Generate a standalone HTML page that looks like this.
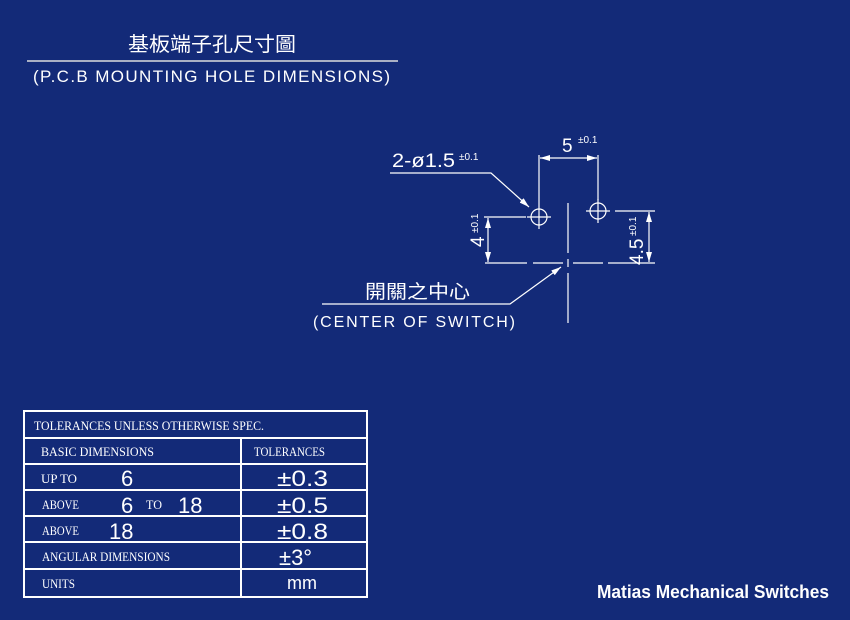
<!DOCTYPE html>
<html><head><meta charset="utf-8"><style>
html,body{margin:0;padding:0;background:#132a78;}
svg{display:block}
text{fill:#fff;font-family:"Liberation Sans","Noto Sans CJK TC",sans-serif}
.s{font-family:"Liberation Serif",serif}
</style></head><body>
<svg width="850" height="620" viewBox="0 0 850 620" xmlns="http://www.w3.org/2000/svg">
<defs><marker id="a" markerWidth="10" markerHeight="6" refX="10" refY="3" orient="auto" markerUnits="userSpaceOnUse"><path d="M0,0 L10,3 L0,6 z" fill="#fff"/></marker></defs>
<rect width="850" height="620" fill="#132a78"/>
<text x="128" y="51" font-size="20" textLength="168" lengthAdjust="spacingAndGlyphs">基板端子孔尺寸圖</text>
<line x1="27" y1="61" x2="398" y2="61" stroke="#ddd" stroke-width="1.5"/>
<text x="33" y="82" font-size="17" textLength="357" lengthAdjust="spacing">(P.C.B MOUNTING HOLE DIMENSIONS)</text>

<g stroke="#fff" stroke-width="1.2" fill="none">
<circle cx="539" cy="217" r="8"/><circle cx="598" cy="211" r="8"/>
<path d="M527,217h24M539,205v24M586,211h24M598,199v24"/>
<path d="M568,203v50M568,259v8M568,273v50"/>
<path d="M485,263h42M533,263h30M573,263h30M608,263h38"/>
<path d="M539,155v50M598,155v45"/>
<line x1="560" y1="158" x2="540" y2="158" marker-end="url(#a)"/>
<line x1="560" y1="158" x2="597" y2="158" marker-end="url(#a)"/>
<path d="M484,217h42"/>
<line x1="488" y1="240" x2="488" y2="218" marker-end="url(#a)"/>
<line x1="488" y1="240" x2="488" y2="262" marker-end="url(#a)"/>
<path d="M615,211h40M646,263h9"/>
<line x1="649" y1="237" x2="649" y2="212" marker-end="url(#a)"/>
<line x1="649" y1="237" x2="649" y2="262" marker-end="url(#a)"/>
<polyline points="390,173 491,173 529,207" marker-end="url(#a)" fill="none"/>
<polyline points="322,304 510,304 561,267" marker-end="url(#a)" fill="none"/>
</g>
<text x="562" y="152" font-size="19">5</text><text x="578" y="143" font-size="10">±0.1</text>
<text x="392" y="167" font-size="19" textLength="63" lengthAdjust="spacingAndGlyphs">2-ø1.5</text><text x="459" y="160" font-size="10">±0.1</text>
<text transform="translate(484,247) rotate(-90)" font-size="19">4</text>
<text transform="translate(478,233) rotate(-90)" font-size="10">±0.1</text>
<text transform="translate(643,265) rotate(-90)" font-size="19">4.5</text>
<text transform="translate(636,236) rotate(-90)" font-size="10">±0.1</text>
<text x="365" y="298" font-size="19" textLength="105" lengthAdjust="spacingAndGlyphs">開關之中心</text>
<text x="313" y="327" font-size="16" textLength="202" lengthAdjust="spacing">(CENTER OF SWITCH)</text>

<g stroke="#fff" stroke-width="2" fill="none">
<rect x="24" y="411" width="343" height="186"/>
<path d="M24,438H367M24,464H367M24,490H367M24,516H367M24,542H367M24,569H367M241,438V597"/>
</g>
<g class="s" font-size="13">
<text class="s" x="34" y="430" textLength="230" lengthAdjust="spacingAndGlyphs">TOLERANCES UNLESS OTHERWISE SPEC.</text>
<text class="s" x="41" y="456" textLength="113" lengthAdjust="spacingAndGlyphs">BASIC DIMENSIONS</text>
<text class="s" x="254" y="456" textLength="71" lengthAdjust="spacingAndGlyphs">TOLERANCES</text>
<text class="s" x="41" y="483" textLength="36" lengthAdjust="spacingAndGlyphs">UP TO</text>
<text class="s" x="42" y="509" textLength="37" lengthAdjust="spacingAndGlyphs">ABOVE</text>
<text class="s" x="146" y="509" textLength="16" lengthAdjust="spacingAndGlyphs">TO</text>
<text class="s" x="42" y="535" textLength="37" lengthAdjust="spacingAndGlyphs">ABOVE</text>
<text class="s" x="42" y="561" textLength="128" lengthAdjust="spacingAndGlyphs">ANGULAR DIMENSIONS</text>
<text class="s" x="42" y="588" textLength="33" lengthAdjust="spacingAndGlyphs">UNITS</text>
</g>
<g font-size="22">
<text x="121" y="486">6</text>
<text x="121" y="513">6</text><text x="178" y="513">18</text>
<text x="109" y="539">18</text>
<text x="277" y="486" textLength="51" lengthAdjust="spacingAndGlyphs">±0.3</text>
<text x="277" y="513" textLength="51" lengthAdjust="spacingAndGlyphs">±0.5</text>
<text x="277" y="539" textLength="51" lengthAdjust="spacingAndGlyphs">±0.8</text>
<text x="279" y="565">±3°</text>
<text x="287" y="589" font-size="18">mm</text>
</g>
<text x="597" y="598" font-size="18" font-weight="bold" textLength="232" lengthAdjust="spacingAndGlyphs">Matias Mechanical Switches</text>
</svg>
</body></html>
